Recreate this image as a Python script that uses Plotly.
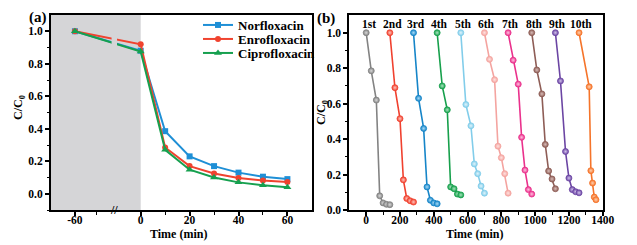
import plotly.graph_objects as go

# ---------------- Panel (a) data ----------------
time_a = [-60, 0, 10, 20, 30, 40, 50, 60]
norfloxacin = [1.0, 0.88, 0.385, 0.23, 0.17, 0.13, 0.105, 0.09]
enrofloxacin = [1.0, 0.92, 0.285, 0.17, 0.125, 0.097, 0.082, 0.072]
ciprofloxacin = [1.0, 0.875, 0.27, 0.148, 0.10, 0.07, 0.052, 0.04]
tick_labels_a = ["-60", "0", "20", "40", "60"]
tick_times_a = [-60, 0, 20, 40, 60]
y_ticks = [0.0, 0.2, 0.4, 0.6, 0.8, 1.0]
x_ticks_b = [0, 200, 400, 600, 800, 1000, 1200, 1400]

# ---------------- Panel (b) data ----------------
cycle_names = ["1st", "2nd", "3rd", "4th", "5th", "6th", "7th", "8th", "9th", "10th"]
cycle_times = [
    [0, 30, 60, 80, 100, 120, 140],
    [140, 170, 200, 220, 240, 260, 280],
    [280, 310, 340, 360, 380, 400, 420],
    [420, 450, 480, 500, 520, 540, 560],
    [560, 590, 620, 640, 660, 680, 700],
    [700, 730, 760, 780, 800, 820, 840],
    [840, 870, 900, 920, 940, 960, 980],
    [980, 1010, 1040, 1060, 1080, 1100, 1120],
    [1120, 1150, 1180, 1200, 1220, 1240, 1260],
    [1260, 1320, 1330, 1340, 1350, 1360],
]
cycle_values = [
    [1.0, 0.785, 0.62, 0.08, 0.04, 0.032, 0.03],
    [1.0, 0.69, 0.515, 0.17, 0.065, 0.052, 0.045],
    [1.0, 0.63, 0.46, 0.13, 0.055, 0.04, 0.035],
    [1.0, 0.70, 0.565, 0.13, 0.12, 0.09, 0.085],
    [1.0, 0.595, 0.475, 0.26, 0.205, 0.135, 0.095],
    [1.0, 0.85, 0.735, 0.36, 0.295, 0.205, 0.095],
    [1.0, 0.845, 0.71, 0.41, 0.225, 0.115, 0.09],
    [1.0, 0.79, 0.655, 0.37, 0.22, 0.175, 0.12],
    [1.0, 0.728, 0.33, 0.18, 0.115, 0.103, 0.097],
    [1.0, 0.695, 0.222, 0.152, 0.073, 0.058],
]
cycle_colors = ["#838383", "#f0412f", "#1685c8", "#17a04c", "#82cdea",
                "#f4a4a0", "#ea318c", "#8e5d56", "#6b45a3", "#f5742a"]
cycle_light = ["#d8d8d8", "#ffc4bc", "#a8daf6", "#a6e4bd", "#e0f4fb",
               "#ffe2e0", "#ffc0df", "#d8bcb8", "#d0c0ea", "#ffd0b0"]

FONT = "Liberation Serif"
WIN_W, WIN_H = 637, 245
OFF = 8  # page body margin
W, H = WIN_W - OFF, WIN_H - OFF


def px(x):
    return (x - OFF) / W


def py(y):
    return 1 - (y - OFF) / H


# broken-axis mapping for panel (a): the negative segment is compressed
NEG_SCALE = 26.9 / 60.0


def map_a(t):
    return t if t >= 0 else t * NEG_SCALE


def bold(s):
    return "<b>%s</b>" % s


xa = [map_a(t) for t in time_a]

fig = go.Figure()

series_a = [
    ("Norfloxacin", norfloxacin, "#1e8fd6", "square", 6, "legend"),
    ("Enrofloxacin", enrofloxacin, "#f0432f", "circle", 6, "legend2"),
    ("Ciprofloxacin", ciprofloxacin, "#16a04f", "triangle-up", 7, "legend3"),
]
for name, vals, col, sym, sz, lg in series_a:
    fig.add_trace(go.Scatter(
        x=xa, y=vals, name=bold(name), mode="lines+markers",
        line=dict(color=col, width=2),
        marker=dict(symbol=sym, size=sz, color=col),
        xaxis="x", yaxis="y", legend=lg,
    ))

for name, tx, vals, col, lt in zip(cycle_names, cycle_times, cycle_values,
                                   cycle_colors, cycle_light):
    fig.add_trace(go.Scatter(
        x=tx, y=vals, name=name, mode="lines+markers", showlegend=False,
        line=dict(color=col, width=1.6),
        marker=dict(symbol="circle", size=6, color=col,
                    gradient=dict(type="radial", color=lt),
                    line=dict(color=col, width=0.8)),
        xaxis="x2", yaxis="y2",
    ))

# domains (pixel based, in window pixels)
xa_dom = [px(51), px(312)]
xb_dom = [px(349.3), px(602.7)]
y_dom = [py(210), py(15)]

xa_range = [(51 - 140.7) / 2.445, (312 - 140.7) / 2.445]

tick_font = dict(family=FONT, size=11.5, color="black")
minor_common = dict(ticklen=2.5, tickwidth=1.2, tickcolor="black", ticks="outside")
axis_common = dict(
    showline=True, linecolor="black", linewidth=2, mirror=True,
    ticks="outside", ticklen=4, tickwidth=1.5, tickcolor="black",
    showgrid=False, zeroline=False, tickfont=tick_font, automargin=False,
)


def legend_at(yrow):
    return dict(x=px(198), y=py(yrow), xanchor="left", yanchor="middle",
                bgcolor="rgba(0,0,0,0)", borderwidth=0,
                font=dict(family=FONT, size=13, color="black"), itemwidth=30)


fig.update_layout(
    template="none",
    width=W, height=H, autosize=False,
    margin=dict(l=0, r=0, t=0, b=0, pad=0),
    paper_bgcolor="white", plot_bgcolor="white",
    font=dict(family=FONT, color="black"),
    xaxis=dict(domain=xa_dom, range=xa_range, anchor="y",
               tickvals=[map_a(t) for t in tick_times_a],
               ticktext=[bold(s) for s in tick_labels_a], ticklabelstandoff=-6,
               minor=dict(tickvals=[-18, 10, 30, 50], **minor_common),
               **axis_common),
    yaxis=dict(domain=y_dom, range=[-0.1, 1.1], anchor="x",
               tickvals=y_ticks, ticktext=[bold("%.1f" % v) for v in y_ticks],
               minor=dict(tickvals=[-0.1, 0.1, 0.3, 0.5, 0.7, 0.9], **minor_common),
               **axis_common),
    xaxis2=dict(domain=xb_dom, range=[-100, 1400], anchor="y2",
                tickvals=x_ticks_b, ticktext=[bold(str(v)) for v in x_ticks_b],
                ticklabelstandoff=-6,
                minor=dict(tickvals=list(range(100, 1400, 200)), **minor_common),
                **axis_common),
    yaxis2=dict(domain=y_dom, range=[0, 1.1], anchor="x2",
                tickvals=y_ticks, ticktext=[bold("%.1f" % v) for v in y_ticks],
                minor=dict(tickvals=[0.1, 0.3, 0.5, 0.7, 0.9], **minor_common),
                **axis_common),
    legend=legend_at(25),
    legend2=legend_at(39),
    legend3=legend_at(53),
)

# shaded adsorption (dark) region and line gap at the break
fig.add_shape(type="rect", xref="x", yref="y domain", x0=xa_range[0], x1=0,
              y0=0, y1=1, fillcolor="#d5d5d7", line_width=0, layer="below")
fig.add_shape(type="rect", xref="x", yref="y", x0=-11.9, x1=-9.7,
              y0=0.86, y1=0.99, fillcolor="#d5d5d7", line_width=0, layer="above")

annotations = [
    dict(text=bold("//"), x=-10.9, y=y_dom[0], xref="x", yref="paper", showarrow=False,
         font=dict(family=FONT, size=12, color="black"),
         xanchor="center", yanchor="middle"),
    dict(text=bold("(a)"), x=px(38), y=py(17.5), xref="paper", yref="paper",
         showarrow=False, font=dict(family=FONT, size=15, color="black"),
         xanchor="center", yanchor="middle"),
    dict(text=bold("(b)"), x=px(326), y=py(18.5), xref="paper", yref="paper",
         showarrow=False, font=dict(family=FONT, size=15, color="black"),
         xanchor="center", yanchor="middle"),
    dict(text=bold("C/C<sub>0</sub>"), x=px(19), y=py(108), xref="paper", yref="paper",
         showarrow=False, textangle=-90, font=dict(family=FONT, size=12, color="black"),
         xanchor="center", yanchor="middle"),
    dict(text=bold("C/C<sub>0</sub>"), x=px(322), y=py(113), xref="paper", yref="paper",
         showarrow=False, textangle=-90, font=dict(family=FONT, size=12, color="black"),
         xanchor="center", yanchor="middle"),
    dict(text=bold("Time (min)"), x=px(178), y=py(233.5), xref="paper", yref="paper",
         showarrow=False, font=dict(family=FONT, size=12, color="black"),
         xanchor="center", yanchor="middle"),
    dict(text=bold("Time (min)"), x=px(474), y=py(233.5), xref="paper", yref="paper",
         showarrow=False, font=dict(family=FONT, size=12, color="black"),
         xanchor="center", yanchor="middle"),
]
for name, tx in zip(cycle_names, cycle_times):
    annotations.append(dict(
        text=bold(name), x=tx[0] + 14, y=1.048, xref="x2", yref="y2", showarrow=False,
        font=dict(family=FONT, size=11.5, color="black"),
        xanchor="center", yanchor="middle"))
fig.update_layout(annotations=annotations)

fig.write_html("out.html")
